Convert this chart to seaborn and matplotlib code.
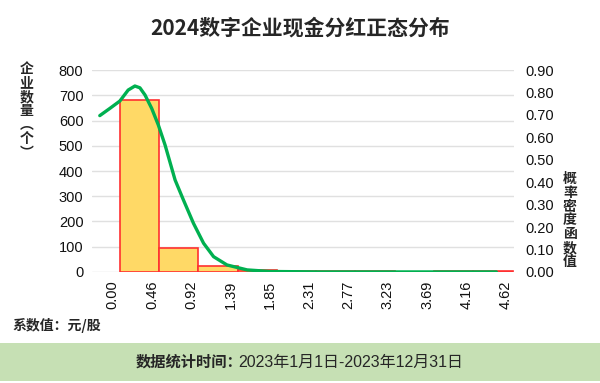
import numpy as np
import pandas as pd
import matplotlib
matplotlib.use("Agg")
import matplotlib.pyplot as plt
from matplotlib.patches import Rectangle
import seaborn as sns

# 分组边界与各组企业数量
bin_edges = [0.0, 0.462, 0.924, 1.386, 1.848, 2.31, 2.772, 3.234, 3.696, 4.158, 4.62]
edge_labels = ["0.00", "0.46", "0.92", "1.39", "1.85", "2.31", "2.77", "3.23", "3.69", "4.16", "4.62"]
counts = [680, 95, 22, 8, 3, 2, 5, 0, 2, 5]

# 概率密度曲线（从图上读出的点）
curve_x = [-0.236, -0.118, 0.0, 0.098, 0.177, 0.236, 0.296, 0.375, 0.453, 0.532,
           0.650, 0.748, 0.866, 0.985, 1.103, 1.261, 1.498, 1.77, 2.36, 3.0, 3.8, 4.43]
curve_y = [0.697, 0.729, 0.762, 0.811, 0.829, 0.821, 0.789, 0.729, 0.655, 0.566,
           0.410, 0.321, 0.217, 0.128, 0.068, 0.031, 0.009, 0.002, 0.0, 0.0, 0.0, 0.0]

left_ticks = [0, 100, 200, 300, 400, 500, 600, 700, 800]
right_ticks = [0.0, 0.1, 0.2, 0.3, 0.4, 0.5, 0.6, 0.7, 0.8, 0.9]

title = "2024数字企业现金分红正态分布"
ylabel_left = ["企", "业", "数", "量", "︵", "个", "︶"]
ylabel_right = "概率密度函数值"
unit_note = "系数值：元/股"
footer_a = "数据统计时间："
footer_b = "2023年1月1日-2023年12月31日"

sns.set_theme(style="white")
plt.rcParams["font.family"] = ["Liberation Sans", "Noto Sans CJK SC", "DejaVu Sans"]
cjk = ["Noto Sans CJK SC", "DejaVu Sans"]

fig = plt.figure(figsize=(6, 3.83), dpi=100)
fig.patch.set_facecolor("white")
fig.add_artist(Rectangle((0, 2 / 383), 1, 38 / 383, transform=fig.transFigure,
                         facecolor="#c6e0b4", edgecolor="none", zorder=0))

ax = fig.add_axes([0.153, 0.29, 0.704, 0.527])
centers = [(bin_edges[i] + bin_edges[i + 1]) / 2 for i in range(len(counts))]
df = pd.DataFrame({"x": centers, "n": counts})
sns.histplot(data=df, x="x", weights="n", bins=bin_edges, ax=ax,
             color="#ffd966", edgecolor="#ff3030", linewidth=1.2, alpha=1, zorder=3)
ax.set_xlim(-0.33, 4.64)
ax.set_ylim(0, 800)
ax.set_yticks(left_ticks)
ax.set_xticks(bin_edges)
ax.set_xticklabels(edge_labels, rotation=90, ha="right", va="top")
ax.tick_params(axis="both", length=0, labelsize=10.5, colors="#111111", pad=6)
ax.grid(axis="y", color="#e0e0e0", linewidth=1)
ax.grid(axis="x", visible=False)
ax.set_axisbelow(True)
ax.set_xlabel("")
ax.set_ylabel("")
for s in ax.spines.values():
    s.set_visible(False)

ax2 = ax.twinx()
sns.lineplot(x=curve_x, y=curve_y, ax=ax2, color="#00b050", linewidth=2.4, sort=False, zorder=4)
ax2.set_ylim(0, 0.9)
ax2.set_yticks(right_ticks)
ax2.set_yticklabels([f"{v:.2f}" for v in right_ticks])
ax2.tick_params(axis="y", length=0, labelsize=10.5, colors="#111111", pad=8)
ax2.grid(False)
for s in ax2.spines.values():
    s.set_visible(False)

fig.text(0.5, 1 - 28 / 383, title, ha="center", va="center",
         fontsize=15, fontweight="bold", family=cjk)
fig.text(0.044, 1 - 62 / 383, "\n".join(ylabel_left),
         ha="center", va="top", fontsize=10, fontweight="bold", family=cjk, linespacing=1.0)
fig.text(0.95, 1 - 172 / 383, "\n".join(list(ylabel_right)),
         ha="center", va="top", fontsize=10, fontweight="bold", family=cjk, linespacing=0.98)
fig.text(12 / 600, 1 - 325 / 383, unit_note, ha="left", va="center",
         fontsize=10, fontweight="bold", family=cjk)
fig.text(242 / 600, 1 - 362 / 383, footer_a, ha="right", va="center",
         fontsize=11, fontweight="bold", family=cjk)
fig.text(238 / 600, 1 - 362 / 383, footer_b, ha="left", va="center",
         fontsize=11.5, family=["Liberation Sans", "Noto Sans CJK SC"])

fig.savefig("out.png", dpi=100)
